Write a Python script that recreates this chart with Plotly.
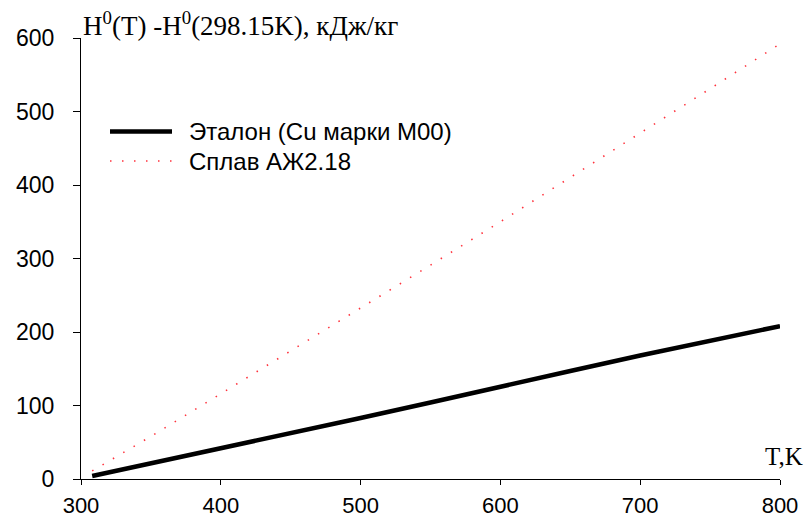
import plotly.graph_objects as go

# Enthalpy increment H0(T) - H0(298.15 K), kJ/kg
temps = [308, 350, 400, 450, 500, 550, 600, 650, 700, 750, 800]
etalon_cu = [4, 21, 42, 62, 83, 104, 126, 147, 168, 188, 208]
alloy_azh = [11, 58, 116, 174, 232, 291, 350, 410, 470, 531, 592]

name_cu = "Эталон (Cu марки М00)"
name_alloy = "Сплав АЖ2.18"

x_ticks = [300, 400, 500, 600, 700, 800]
y_ticks = [0, 100, 200, 300, 400, 500, 600]

W, H = 806, 521
ML, MR, MT, MB = 81, 26, 38, 42
PW, PH = W - ML - MR, H - MT - MB

def px_x(p):
    return (p - ML) / PW

def px_y(p):
    return (H - MB - p) / PH

sans = "Liberation Sans, Arial, sans-serif"
serif = "Liberation Serif, Times New Roman, serif"

red_line = dict(color="rgb(255,50,60)", width=1.6, dash="1.5px,10.5px")
black_line = dict(color="black", width=4.5)

fig = go.Figure()
fig.add_trace(go.Scatter(x=temps, y=alloy_azh, mode="lines", name=name_alloy,
                         line=red_line, showlegend=False))
fig.add_trace(go.Scatter(x=temps, y=etalon_cu, mode="lines", name=name_cu,
                         line=black_line, showlegend=False))

# Legend drawn by hand so that the line samples are long
shapes = [
    dict(type="line", xref="paper", yref="paper",
         x0=px_x(110), x1=px_x(172), y0=px_y(131.5), y1=px_y(131.5),
         line=black_line),
    dict(type="line", xref="paper", yref="paper",
         x0=px_x(110), x1=px_x(172), y0=px_y(161), y1=px_y(161),
         line=red_line),
]
annotations = [
    dict(text=name_cu, xref="paper", yref="paper", x=px_x(187), y=px_y(131.5),
         xanchor="left", yanchor="middle", showarrow=False,
         font=dict(family=sans, size=24, color="black")),
    dict(text=name_alloy, xref="paper", yref="paper", x=px_x(187), y=px_y(161),
         xanchor="left", yanchor="middle", showarrow=False,
         font=dict(family=sans, size=24, color="black")),
    dict(text="H<sup>0</sup>(T) -H<sup>0</sup>(298.15K), кДж/кг",
         xref="paper", yref="paper", x=px_x(81), y=px_y(24),
         xanchor="left", yanchor="middle", showarrow=False,
         font=dict(family=serif, size=27, color="black")),
    dict(text="T,K", xref="paper", yref="paper", x=px_x(805), y=px_y(456),
         xanchor="right", yanchor="middle", showarrow=False,
         font=dict(family=serif, size=25, color="black")),
]

fig.update_layout(
    template="none",
    width=W, height=H, autosize=False,
    margin=dict(l=ML, r=MR, t=MT, b=MB, pad=0),
    paper_bgcolor="white", plot_bgcolor="white",
    shapes=shapes, annotations=annotations,
    showlegend=False,
)
fig.update_xaxes(range=[300, 800], tickvals=x_ticks, ticktext=[str(v) for v in x_ticks],
                 automargin=False,
                 showgrid=False, zeroline=False, showline=True, linecolor="black",
                 linewidth=1, ticks="outside", ticklen=5, tickcolor="black",
                 ticklabelstandoff=2,
                 tickfont=dict(family=sans, size=22, color="black"))
fig.update_yaxes(range=[0, 600], tickvals=y_ticks, ticktext=[str(v) for v in y_ticks],
                 automargin=False,
                 showgrid=False, zeroline=False, showline=True, linecolor="black",
                 linewidth=1, ticks="outside", ticklen=7, tickcolor="black",
                 ticklabelstandoff=14,
                 tickfont=dict(family=sans, size=23, color="black"))

fig.write_html("out.html")
